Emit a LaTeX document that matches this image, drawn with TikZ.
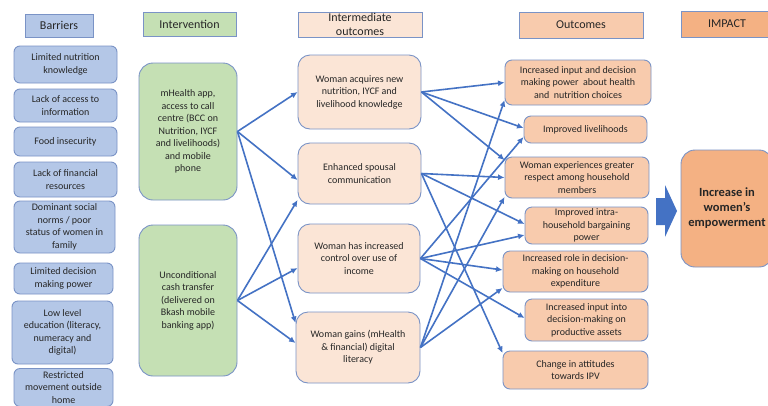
\documentclass[tikz,border=0pt]{standalone}
\usepackage{fontspec}
\setmainfont{Carlito}
\usetikzlibrary{arrows.meta}
\definecolor{edgeblue}{HTML}{7A93C6}
\definecolor{arrowblue}{HTML}{4472C4}
\definecolor{barfill}{HTML}{B4C7E7}
\definecolor{intfill}{HTML}{C5E0B4}
\definecolor{midfill}{HTML}{FBE5D6}
\definecolor{outfill}{HTML}{F8CBAD}
\definecolor{impfill}{HTML}{F4B183}

\begin{document}
\begin{tikzpicture}[x=1pt,y=-1pt,
    every node/.style={text=black!85,align=center,inner sep=0pt},
    hdr/.style={draw=edgeblue,line width=0.9pt,font=\fontsize{12}{14}\selectfont},
    box/.style={draw=edgeblue,line width=0.9pt,font=\fontsize{10}{12.5}\selectfont},
    link/.style={draw=arrowblue,line width=1.6pt,-{Latex[length=6.5pt,width=6pt]}}]
  \useasboundingbox[fill=white] (0,0) rectangle (768,405);
  % column headers
  \node[hdr,fill=barfill,minimum width=68pt,minimum height=23pt] (hbar) at (59,25.5) {Barriers};
  \node[hdr,fill=intfill,minimum width=93pt,minimum height=24pt] (hint) at (189.5,24) {Intervention};
  \node[hdr,fill=midfill,minimum width=124pt,minimum height=25pt] (hmid) at (360,24.5) {Intermediate\\outcomes};
  \node[hdr,fill=outfill,minimum width=124pt,minimum height=26pt] (hout) at (581,25) {Outcomes};
  \node[hdr,fill=impfill,minimum width=92pt,minimum height=26pt] (himp) at (727,24) {IMPACT};
  % barriers
  \begin{scope}[every node/.append style={box,fill=barfill,rounded corners=6pt}]
    \node[minimum width=103pt,minimum height=37pt] (b1) at (65.5,64.5) {Limited nutrition\\knowledge};
    \node[minimum width=103pt,minimum height=33pt] (b2) at (65.5,105.5) {Lack of access to\\information};
    \node[minimum width=103pt,minimum height=29pt] (b3) at (65.5,141.5) {Food insecurity};
    \node[minimum width=103pt,minimum height=35pt] (b4) at (65.5,179.5) {Lack of financial\\resources};
    \node[minimum width=101pt,minimum height=52pt] (b5) at (64.5,227) {Dominant social\\norms / poor\\status of women in\\family};
    \node[minimum width=99pt,minimum height=31pt] (b6) at (63.5,278.5) {Limited decision\\making power};
    \node[minimum width=101pt,minimum height=63pt] (b7) at (62.5,332.5) {Low level\\education (literacy,\\numeracy and\\digital)};
    \node[minimum width=99pt,minimum height=38pt] (b8) at (63.5,387.5) {Restricted\\movement outside\\home};
  \end{scope}
  % interventions
  \node[box,fill=intfill,rounded corners=14pt,minimum width=98pt,minimum height=137pt] (m) at (188,131.5)
    {mHealth app,\\access to call\\centre (BCC on\\Nutrition, IYCF\\and livelihoods)\\and mobile\\phone};
  \node[box,fill=intfill,rounded corners=14pt,minimum width=98pt,minimum height=151pt] (c) at (188,300.5)
    {Unconditional\\cash transfer\\(delivered on\\Bkash mobile\\banking app)};
  % intermediate outcomes
  \begin{scope}[every node/.append style={box,fill=midfill,rounded corners=12pt}]
    \node[minimum width=123pt,minimum height=74pt] (i1) at (359.5,92) {Woman acquires new\\nutrition, IYCF and\\livelihood knowledge};
    \node[minimum width=123pt,minimum height=61pt] (i2) at (359.5,173.5) {Enhanced spousal\\communication};
    \node[minimum width=122pt,minimum height=69pt] (i3) at (359,258.5) {Woman has increased\\control over use of\\income};
    \node[minimum width=124pt,minimum height=71pt] (i4) at (358,347.5) {Woman gains (mHealth\\\& financial) digital\\literacy};
  \end{scope}
  % outcomes
  \begin{scope}[every node/.append style={box,fill=outfill,rounded corners=7pt}]
    \node[minimum width=146pt,minimum height=45pt] (o1) at (578,82.5) {Increased input and decision\\making power\ \ about health\\and\ \ nutrition choices};
    \node[minimum width=123pt,minimum height=27pt] (o2) at (585.5,129.5) {Improved livelihoods};
    \node[minimum width=144pt,minimum height=41pt] (o3) at (577,177.5) {Woman experiences greater\\respect among household\\members};
    \node[minimum width=123pt,minimum height=37pt] (o4) at (586.5,225.5) {Improved intra-\\household bargaining\\power};
    \node[minimum width=145pt,minimum height=41pt] (o5) at (575.5,271.5) {Increased role in decision-\\making on household\\expenditure};
    \node[minimum width=123pt,minimum height=42pt] (o6) at (586.5,320) {Increased input into\\decision-making on\\productive assets};
    \node[minimum width=145pt,minimum height=38pt] (o7) at (575.5,370) {Change in attitudes\\towards IPV};
  \end{scope}
  % impact
  \node[box,fill=impfill,rounded corners=14pt,minimum width=92pt,minimum height=117pt,
    font=\fontsize{12.5}{15}\selectfont\bfseries] (imp) at (727,208.5) {Increase in\\women’s\\empowerment};
  \fill[arrowblue] (656,198) -- (665,198) -- (665,185) -- (677,211) -- (665,237) -- (665,225) -- (656,225) -- cycle;
  % links
  \foreach \a/\b/\s in {m/i1/0,m/i2/-6.5,m/i4/24.5,c/i2/-26.5,c/i3/-9.5,c/i4/4.5,
      i1/o1/0,i1/o2/1.5,i1/o3/17.5,i2/o3/0,i2/o4/1.5,i2/o7/17,
      i3/o2/-7.5,i3/o4/-9.5,i3/o5/1.5,i3/o6/2,i4/o1/-17.5,i4/o3/-19.5,i4/o5/-16.5}
    \draw[link] (\a.east) -- ([yshift=\s pt]\b.west);
\end{tikzpicture}
\end{document}
